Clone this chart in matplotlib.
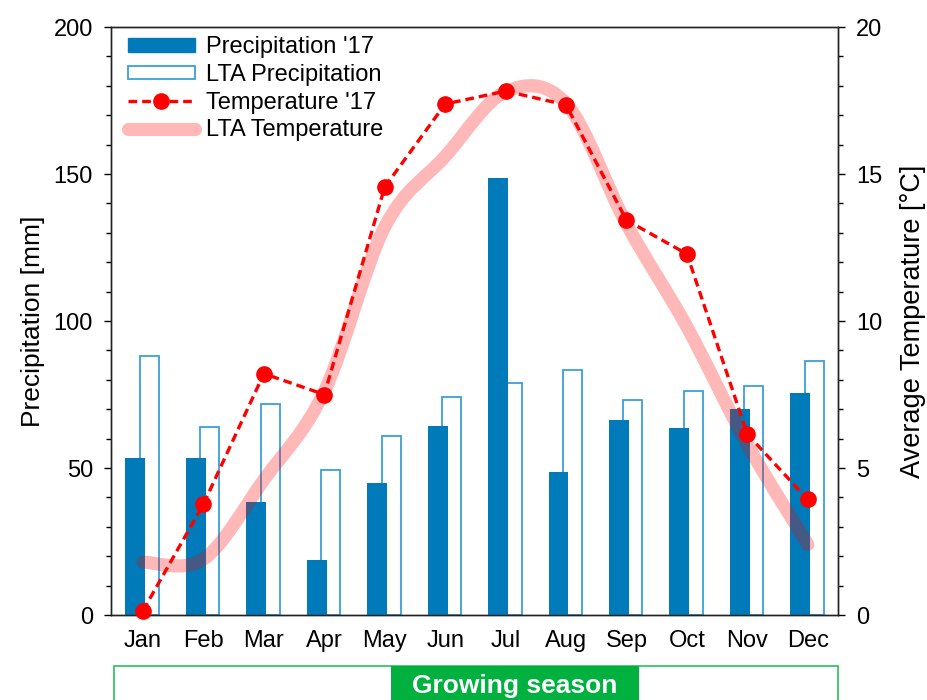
import numpy as np
import matplotlib
matplotlib.use('Agg')
import matplotlib.pyplot as plt
from matplotlib.path import Path
from matplotlib.patches import PathPatch, Rectangle, Patch
from matplotlib.lines import Line2D
from matplotlib.ticker import MultipleLocator

plt.rcParams['font.family'] = ['Liberation Sans', 'DejaVu Sans']
plt.rcParams['font.size'] = 17

# Monthly data
months = ['Jan', 'Feb', 'Mar', 'Apr', 'May', 'Jun',
          'Jul', 'Aug', 'Sep', 'Oct', 'Nov', 'Dec']
precip_2017 = [53.5, 53.5, 38.3, 18.7, 44.9, 64.4, 148.6, 48.8, 66.3, 63.7, 70.2, 75.5]
precip_lta = [88.1, 64.0, 71.9, 49.2, 60.9, 74.0, 78.9, 83.2, 73.1, 76.2, 78.0, 86.3]
temp_2017 = [0.15, 3.77, 8.21, 7.5, 14.56, 17.38, 17.82, 17.35, 13.43, 12.28, 6.15, 3.93]
temp_lta = [1.8, 1.9, 4.6, 7.6, 13.2, 15.6, 17.8, 17.4, 13.3, 9.8, 5.8, 2.4]

bar_blue = '#007AB8'
edge_blue = '#3A9FD8'
green = '#00B140'

x = np.arange(len(months))

fig = plt.figure(figsize=(9.27, 7.0), dpi=100)
ax = fig.add_axes([0.1197, 0.1214, 0.7843, 0.84])

# bars: long-term average (hollow) behind, 2017 (filled) in front
ax.bar(x + 0.107, precip_lta, width=0.315, facecolor='white',
       edgecolor=edge_blue, linewidth=1.3, zorder=2)
ax.bar(x - 0.125, precip_2017, width=0.33, color=bar_blue, zorder=3)

ax.set_xlim(-0.53, 11.5)
ax.set_ylim(0, 200)
ax.set_xticks(x)
ax.set_xticklabels(months)
ax.tick_params(axis='x', length=0, pad=11)
ax.yaxis.set_major_locator(MultipleLocator(50))
ax.yaxis.set_minor_locator(MultipleLocator(10))
ax.tick_params(axis='y', which='major', direction='out', length=5, width=1, pad=8)
ax.tick_params(axis='y', which='minor', direction='out', length=3.5, width=1)
ax.set_ylabel('Precipitation [mm]', fontsize=19, labelpad=6)

ax2 = ax.twinx()
ax2.set_ylim(0, 20)
ax2.yaxis.set_major_locator(MultipleLocator(5))
ax2.yaxis.set_minor_locator(MultipleLocator(1))
ax2.tick_params(axis='y', which='major', direction='out', length=5, width=1, pad=8)
ax2.tick_params(axis='y', which='minor', direction='out', length=3.5, width=1)
ax2.set_ylabel('Average Temperature [°C]', fontsize=19.5, labelpad=13)

for a in (ax, ax2):
    for s in a.spines.values():
        s.set_linewidth(1.0)
        s.set_color('#222222')

# smoothed long-term temperature curve (cubic Bezier through monthly values)
pts = np.column_stack([x, temp_lta]).astype(float)
ext = np.vstack([pts[0], pts, pts[-1]])
verts = [tuple(pts[0])]
codes = [Path.MOVETO]
for i in range(len(pts) - 1):
    c1 = ext[i + 1] + (ext[i + 2] - ext[i]) / 6.0
    c2 = ext[i + 2] - (ext[i + 3] - ext[i + 1]) / 6.0
    verts += [tuple(c1), tuple(c2), tuple(pts[i + 1])]
    codes += [Path.CURVE4] * 3
lta_patch = PathPatch(Path(verts, codes), facecolor='none',
                      edgecolor=(1, 0, 0, 0.28), linewidth=9.5,
                      capstyle='round', joinstyle='round', zorder=4)
ax2.add_patch(lta_patch)

ax2.plot(x, temp_2017, color='#FF0000', linestyle='--', dashes=(2.6, 1.5),
         linewidth=2.4, marker='o', markersize=11, zorder=5, clip_on=False)

handles = [
    Patch(facecolor=bar_blue, edgecolor=bar_blue),
    Patch(facecolor='white', edgecolor=edge_blue, linewidth=1.3),
    Line2D([], [], color='#FF0000', linestyle='--', dashes=(2.6, 1.5),
           linewidth=2.4, marker='o', markersize=11),
    Line2D([], [], color=(1, 0, 0, 0.28), linewidth=9.5, solid_capstyle='round'),
]
labels = ["Precipitation '17", 'LTA Precipitation', "Temperature '17", 'LTA Temperature']
ax2.legend(handles, labels, loc='upper left', bbox_to_anchor=(0.023, 0.984),
           frameon=False, handlelength=2.85, handleheight=0.5, handletextpad=0.45,
           labelspacing=0.24, borderaxespad=0, borderpad=0)

# growing season band below the axis
fig.patches.append(Rectangle((114 / 927, -0.05), (838 - 114) / 927, 0.05 + 34 / 700,
                             transform=fig.transFigure, facecolor='none',
                             edgecolor='#3CC46A', linewidth=1.3))
fig.patches.append(Rectangle((391 / 927, -0.05), (639 - 391) / 927, 0.05 + 34 / 700,
                             transform=fig.transFigure, facecolor=green,
                             edgecolor='none'))
fig.text(515 / 927, 1 - 686 / 700, 'Growing season', color='white',
         fontsize=19, fontweight='bold', ha='center', va='center')

fig.savefig('out.png', dpi=100)
